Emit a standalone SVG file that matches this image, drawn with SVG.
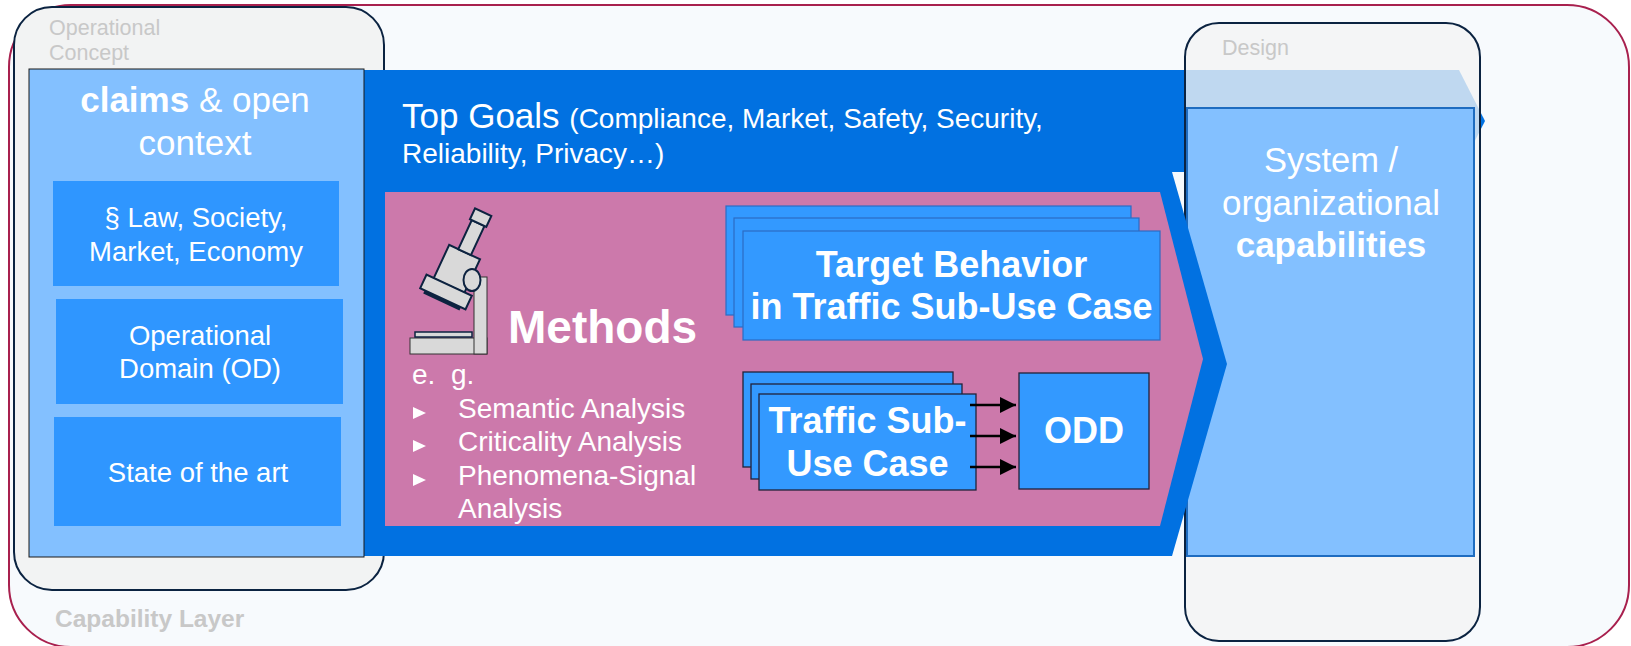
<svg xmlns="http://www.w3.org/2000/svg" width="1631" height="646" viewBox="0 0 1631 646">
<defs>
<style>
.t{font-family:"Liberation Sans",Arial,sans-serif;fill:#FFFFFF}
.b{font-weight:bold}
.gray{font-family:"Liberation Sans",Arial,sans-serif;fill:#C8C8C8}
.box{fill:#2F96FF}
.tb{fill:#3399FF;stroke:#2C6CC4;stroke-width:1.2}
.ts{fill:#3399FF;stroke:#22223A;stroke-width:1.3}
.mic{fill:#D9D9D9;stroke:#0D2340;stroke-width:2}
.conn{stroke:#000;stroke-width:2.5;fill:none}
</style>
<marker id="ah" viewBox="0 0 10 10" refX="10" refY="5" markerWidth="6.4" markerHeight="6.4" markerUnits="strokeWidth" orient="auto">
<path d="M0,0 L10,5 L0,10 Z" fill="#000"/>
</marker>
</defs>

<g id="capability-layer">
<rect x="9" y="5" width="1620" height="642" rx="62" ry="62" fill="#F7FAFD" stroke="#A8204E" stroke-width="2"/>
<text class="gray b" x="55" y="627" font-size="24.5">Capability Layer</text>
</g>

<g id="operational-concept">
<rect x="14" y="7" width="370" height="583" rx="38" ry="38" fill="#F2F3F3" stroke="#0B2341" stroke-width="2"/>
<text class="gray" x="49" y="35" font-size="21.5">Operational</text>
<text class="gray" x="49" y="60" font-size="21.5">Concept</text>
</g>

<g id="top-goals">
<polygon points="364,70 1459,70 1485,121 1459,172 364,172" fill="#0171E1"/>
<text class="t" x="402" y="128" font-size="35">Top Goals <tspan font-size="28">(Compliance, Market, Safety, Security,</tspan></text>
<text class="t" x="402" y="163" font-size="28">Reliability, Privacy…)</text>
</g>

<g id="design">
<rect x="1185" y="23" width="295" height="618" rx="34" ry="34" fill="#F2F3F3" fill-opacity="0.79" stroke="#0B2341" stroke-width="2"/>
<text class="gray" x="1222" y="55" font-size="21.5">Design</text>
</g>

<g id="capabilities">
<rect x="1187" y="108" width="287" height="448" fill="#83C0FF" stroke="#1E6CC0" stroke-width="2"/>
<text class="t" x="1331" y="172" font-size="34.5" text-anchor="middle">System /</text>
<text class="t" x="1331" y="215" font-size="35" text-anchor="middle">organizational</text>
<text class="t b" x="1331" y="257" font-size="35" text-anchor="middle">capabilities</text>
</g>

<g id="goal-body">
<polygon points="364,172 1172,172 1227,364 1172,556 364,556" fill="#0171E1"/>
</g>

<g id="claims">
<rect x="29" y="69" width="335" height="488" fill="#83C0FF" stroke="#1A1A1A" stroke-width="1"/>
<text class="t" x="195" y="112" font-size="35" text-anchor="middle"><tspan class="b">claims</tspan> &amp; open</text>
<text class="t" x="195" y="155" font-size="35" text-anchor="middle">context</text>
</g>

<g id="law">
<rect class="box" x="53" y="181" width="286" height="105"/>
<text class="t" x="196" y="227" font-size="27.5" text-anchor="middle">§ Law, Society,</text>
<text class="t" x="196" y="261" font-size="27.5" text-anchor="middle">Market, Economy</text>
</g>

<g id="od">
<rect class="box" x="56" y="299" width="287" height="105"/>
<text class="t" x="200" y="345" font-size="27.5" text-anchor="middle">Operational</text>
<text class="t" x="200" y="378" font-size="27.5" text-anchor="middle">Domain (OD)</text>
</g>

<g id="sota">
<rect class="box" x="54" y="417" width="287" height="109"/>
<text class="t" x="198" y="482" font-size="27.5" text-anchor="middle">State of the art</text>
</g>

<g id="methods">
<polygon points="385,192 1160,192 1203,359 1160,526 385,526" fill="#CC79AB"/>
<g id="microscope">
<rect x="410" y="338" width="77" height="16" fill="#D9D9D9" stroke="#333" stroke-width="1"/>
<rect x="415" y="332" width="57" height="5" fill="#D9D9D9" stroke="#0D2340" stroke-width="1.5"/>
<rect x="474" y="277" width="13" height="77" fill="#D9D9D9" stroke="#333" stroke-width="1"/>
<g transform="translate(446,292) rotate(25)">
<rect x="-20" y="7.5" width="40" height="3.5" fill="#0D2340"/>
<rect class="mic" x="-17" y="-44" width="34" height="37"/>
<rect class="mic" x="-7" y="-76" width="14" height="32"/>
<rect class="mic" x="-9" y="-88" width="18" height="12"/>
<rect class="mic" x="-25" y="-7.5" width="50" height="15"/>
</g>
<ellipse class="mic" cx="472" cy="280" rx="8.5" ry="11"/>
</g>
<text class="t b" x="508" y="343" font-size="46">Methods</text>
<text class="t" x="412" y="384" font-size="28">e.</text>
<text class="t" x="451" y="384" font-size="28">g.</text>
<polygon points="413,407 426,413 413,419" fill="#FFFFFF"/>
<text class="t" x="458" y="418" font-size="28">Semantic Analysis</text>
<polygon points="413,440 426,446 413,452" fill="#FFFFFF"/>
<text class="t" x="458" y="451" font-size="28">Criticality Analysis</text>
<polygon points="413,474 426,480 413,486" fill="#FFFFFF"/>
<text class="t" x="458" y="485" font-size="28">Phenomena-Signal</text>
<text class="t" x="458" y="518" font-size="28">Analysis</text>
</g>

<g id="target-behavior">
<rect class="tb" x="726" y="206" width="405" height="109"/>
<rect class="tb" x="734" y="218" width="405" height="109"/>
<rect class="tb" x="743" y="231" width="417" height="109"/>
<text class="t b" x="951.5" y="277" font-size="36" text-anchor="middle">Target Behavior</text>
<text class="t b" x="951.5" y="319" font-size="36" text-anchor="middle">in Traffic Sub-Use Case</text>
</g>

<g id="traffic-sub-use-case">
<rect class="ts" x="743" y="372" width="210" height="95"/>
<rect class="ts" x="751" y="384" width="211" height="95"/>
<rect class="ts" x="759" y="394" width="217" height="96"/>
<text class="t b" x="867.5" y="433" font-size="36" text-anchor="middle">Traffic Sub-</text>
<text class="t b" x="867.5" y="476" font-size="36" text-anchor="middle">Use Case</text>
</g>

<g id="odd">
<rect class="ts" x="1019" y="373" width="130" height="116" stroke-width="1.6"/>
<text class="t b" x="1084" y="443" font-size="36" text-anchor="middle">ODD</text>
</g>

<g id="connectors">
<line class="conn" x1="970" y1="405" x2="1016" y2="405" marker-end="url(#ah)"/>
<line class="conn" x1="970" y1="436" x2="1016" y2="436" marker-end="url(#ah)"/>
<line class="conn" x1="970" y1="467" x2="1016" y2="467" marker-end="url(#ah)"/>
</g>
</svg>
